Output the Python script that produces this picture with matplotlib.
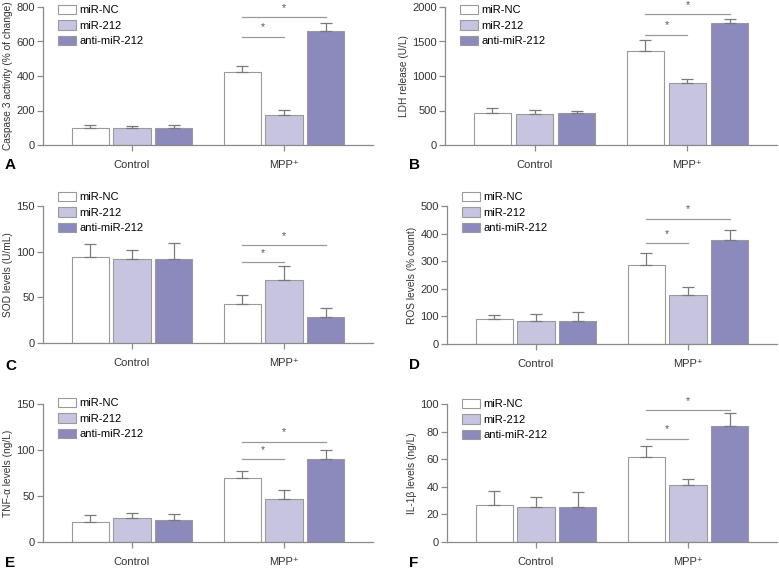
import numpy as np
import matplotlib
matplotlib.use('Agg')
import matplotlib.pyplot as plt

plt.rcParams['font.family'] = ['Liberation Sans', 'DejaVu Sans']

groups = ['Control', 'MPP⁺']
series = ['miR-NC', 'miR-212', 'anti-miR-212']
colors = ['white', '#c6c4df', '#8c89bd']

# panel values: rows = series, cols = (Control, MPP+)
caspase_mean = [[100, 423], [97, 174], [99, 661]]
caspase_err = [[16, 35], [13, 29], [17, 46]]
ldh_mean = [[464, 1362], [454, 899], [464, 1763]]
ldh_err = [[72, 160], [53, 58], [29, 68]]
sod_mean = [[94, 42.5], [91.5, 69], [91.5, 28.3]]
sod_err = [[14, 10], [10, 15], [18.5, 10]]
ros_mean = [[89, 287], [84.5, 179], [83.3, 378]]
ros_err = [[16, 41], [24, 29], [34, 36]]
tnf_mean = [[21.7, 69.2], [26.1, 46.4], [23.9, 89.9]]
tnf_err = [[7.6, 8], [5.4, 10], [6.9, 9.7]]
il1b_mean = [[26.6, 61.6], [25.4, 41.3], [25.4, 84.1]]
il1b_err = [[10, 8], [7.2, 4.4], [10.6, 9.4]]

# significance bar heights (lower: NC vs miR-212, upper: NC vs anti)
caspase_sig = [628, 742]
ldh_sig = [1599, 1899]
sod_sig = [88.3, 107.1]
ros_sig = [366, 454]
tnf_sig = [90.2, 109]
il1b_sig = [75, 95.4]

panels = [
    ('A', caspase_mean, caspase_err, caspase_sig, 'Caspase 3 activity (% of change)', 800, 200),
    ('B', ldh_mean, ldh_err, ldh_sig, 'LDH release (U/L)', 2000, 500),
    ('C', sod_mean, sod_err, sod_sig, 'SOD levels (U/mL)', 150, 50),
    ('D', ros_mean, ros_err, ros_sig, 'ROS levels (% count)', 500, 100),
    ('E', tnf_mean, tnf_err, tnf_sig, 'TNF-α levels (ng/L)', 150, 50),
    ('F', il1b_mean, il1b_err, il1b_sig, 'IL-1β levels (ng/L)', 100, 20),
]

W, H = 779, 570
# axes boxes in pixels: left, right, top, bottom
boxes = [
    (43, 373, 7, 145), (445, 777, 7, 145),
    (43, 373, 206, 343), (447, 777, 206, 344),
    (43, 373, 404, 542), (447, 777, 404, 542),
]
legend_top = [5, 5, 192, 192, 398, 399]
label_pos = [(5, 169), (409, 169), (5, 370), (409, 369), (5, 567), (409, 567)]

fig = plt.figure(figsize=(W / 100, H / 100), dpi=100)

grey = '#8a8a8a'
centers = np.array([0, 4.1])
offsets = [-1.13, 0, 1.13]
bw = 1.0

for (letter, means, errs, sig, ylab, ymax, ystep), box, lt, lp in zip(panels, boxes, legend_top, label_pos):
    l, r, t, b = box
    ax = fig.add_axes([l / W, 1 - b / H, (r - l) / W, (b - t) / H])
    for i in range(3):
        xs = centers + offsets[i]
        ax.bar(xs, means[i], bw, color=colors[i], edgecolor='#9a9a9a', linewidth=0.8,
               label=series[i], zorder=2)
        ax.errorbar(xs, means[i], yerr=[[0, 0], errs[i]], fmt='none', ecolor='#7a7a7a',
                    elinewidth=0.9, capsize=4.5, capthick=0.9, zorder=3)
    # significance lines
    x0 = centers[1] + offsets[0]
    for x1, h in [(centers[1] + offsets[1], sig[0]), (centers[1] + offsets[2], sig[1])]:
        ax.plot([x0, x1], [h, h], color='#9a9a9a', lw=0.9, clip_on=False)
        ax.annotate('*', ((x0 + x1) / 2, h), xytext=(0, 3), textcoords='offset points',
                    ha='center', va='bottom', fontsize=7.5, color='#555555', annotation_clip=False)
    ax.set_xlim(-2.4, 6.5)
    ax.set_ylim(0, ymax)
    ax.set_yticks(np.arange(0, ymax + 1, ystep))
    ax.set_xticks(centers)
    ax.set_xticklabels(groups)
    for s in ['top', 'right']:
        ax.spines[s].set_visible(False)
    for s in ['left', 'bottom']:
        ax.spines[s].set_color(grey)
        ax.spines[s].set_linewidth(0.9)
    ax.tick_params(axis='both', colors=grey, labelcolor='#333333', labelsize=8, length=4, width=0.9)
    ax.tick_params(axis='y', pad=2)
    ax.tick_params(axis='x', pad=7)
    ax.set_ylabel(ylab, fontsize=7.3, color='#333333', labelpad=2)
    ax.legend(loc='upper left', bbox_to_anchor=(15 / (r - l), 1 - (lt - t) / (b - t)),
              frameon=False, fontsize=8, handlelength=1.6, handleheight=0.9,
              labelspacing=0.45, handletextpad=0.3, borderpad=0, borderaxespad=0)
    fig.text(lp[0] / W, 1 - lp[1] / H, letter, fontsize=11, fontweight='bold',
             ha='left', va='baseline')

fig.savefig('out.png', dpi=100)
